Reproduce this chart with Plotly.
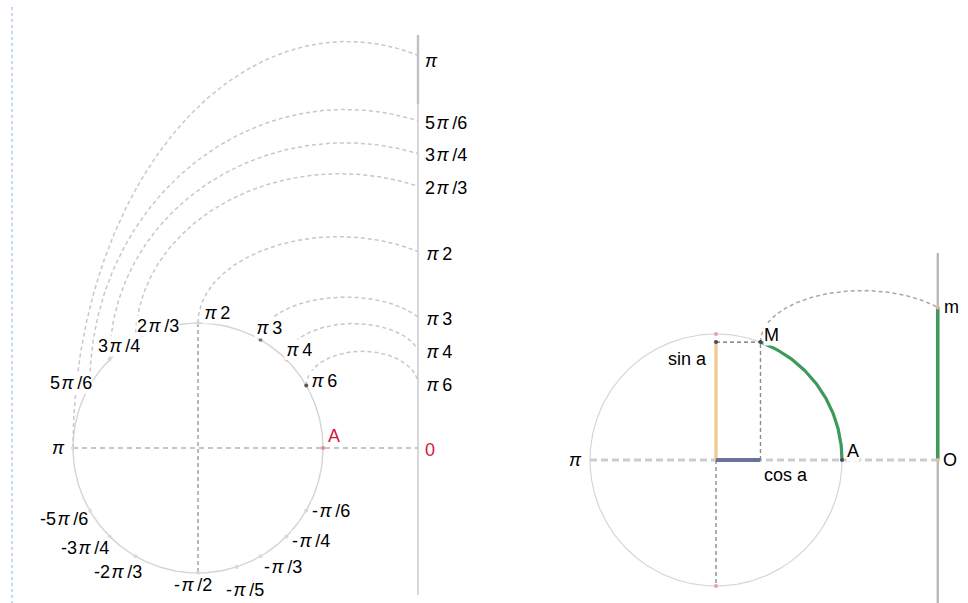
import numpy as np
import plotly.graph_objects as go

PI = np.pi

# ---------------- data ----------------
# Left diagram: points marked on the unit circle and their labels
circle_angles = [PI/2, PI/3, PI/4, PI/6, 0, 2*PI/3, 3*PI/4, 5*PI/6, PI,
                 -5*PI/6, -3*PI/4, -2*PI/3, -PI/2, -2*PI/5, -PI/3, -PI/4, -PI/6]
circle_labels = ["π2", "π3", "π4", "π6", "A", "2π/3", "3π/4", "5π/6", "π",
                 "-5π/6", "-3π/4", "-2π/3", "-π/2", "-π/5", "-π/3", "-π/4", "-π/6"]
# angles unrolled onto the number line (arc length = angle)
line_angles = [PI, 5*PI/6, 3*PI/4, 2*PI/3, PI/2, PI/3, PI/4, PI/6, 0]
line_labels = ["π", "5π/6", "3π/4", "2π/3", "π2", "π3", "π4", "π6", "0"]
# angles whose unrolling is shown by a dashed bridge
arc_angles = [PI, 5*PI/6, 3*PI/4, 2*PI/3, PI/2, PI/3, PI/4, PI/6]
# Right diagram: angle a of point M
alpha = 1.21

# ---------------- style / layout parameters ----------------
W, H = 968, 603
L = 1.76                        # x of the number line (in radius units)
R1, C1 = 125.0, (198.0, 448.0)  # left: px per unit, centre px
R2, C2 = 126.0, (716.0, 460.0)  # right
arc_rise = [0.11, 0.09, 0.085, 0.10, 0.12, 0.16, 0.21, 0.25]
label_shift = [(18, 10), (8, 12), (12, 10), (17, 5), (11, 12), (22, 14), (9, 14), (-19, 3),
               (-15, 0), (-26, -8), (-25, -12), (-18, -16), (-5, -12), (8, -23), (22, -11),
               (25, -5), (25, 0)]
FONT = "Liberation Sans, Arial, sans-serif"
RED = "#d2163c"
GRAY_ARC = "#cbc6c8"


def fmt(s):
    if s == "π":
        return "<i>π</i>"
    return s.replace("π", "\u200a<i>π</i>\u2009")


def bridge(P, Q, rise, n=160):
    px, py = P
    qx, qy = Q
    top = qy + rise
    b = top - py
    r = (qy - py) / b
    a = (qx - px) / (1 + np.sqrt(1 - r * r))
    cx = px + a
    phiq = np.arctan2(r, (qx - cx) / a)
    t = np.linspace(PI, phiq, n)
    return cx + a * np.cos(t), py + b * np.sin(t)


fig = go.Figure()


def line(x, y, color, width, dash="solid", ax=1):
    fig.add_trace(go.Scatter(x=x, y=y, mode="lines", hoverinfo="skip",
                             line=dict(color=color, width=width, dash=dash),
                             xaxis="x" if ax == 1 else "x2",
                             yaxis="y" if ax == 1 else "y2"))


tt = np.linspace(0, 2 * PI, 361)

# ================= LEFT DIAGRAM =================
line(np.cos(tt), np.sin(tt), "#d4d4d6", 1.4)
line([-1, L], [0, 0], "#b4b2b4", 1.6, "5px,4px")
line([0, 0], [1, -1], "#9a9a9c", 1.4, "4px,3px")
line([L, L], [-1.176, 3.304], "#cfcfd4", 1.6)
line([L, L], [2.75, 3.304], "#c0c0c6", 2.4)

for ang, rise in zip(arc_angles, arc_rise):
    bx, by = bridge((np.cos(ang), np.sin(ang)), (L, ang), rise)
    line(bx, by, GRAY_ARC, 1.5, "4px,3px")

# dots on circle
dot_col = ["#d8d8d8"] * len(circle_angles)
dot_col[1] = "#777777"
dot_col[2] = "#e08c9a"
dot_col[3] = "#555555"
dot_col[4] = "#e08c9a"
fig.add_trace(go.Scatter(x=np.cos(circle_angles), y=np.sin(circle_angles), mode="markers",
                         marker=dict(size=4, color=dot_col), hoverinfo="skip",
                         xaxis="x", yaxis="y"))

ann = []
for ang, lab, (dx, dy) in zip(circle_angles, circle_labels, label_shift):
    ann.append(dict(x=np.cos(ang), y=np.sin(ang), xref="x", yref="y", text=fmt(lab),
                    showarrow=False, xshift=dx, yshift=dy, bgcolor="white", borderpad=0,
                    font=dict(family=FONT, size=18, color=RED if lab == "A" else "black")))
for ang, lab in zip(line_angles, line_labels):
    ann.append(dict(x=L, y=ang, xref="x", yref="y", text=fmt(lab), showarrow=False,
                    xanchor="left", xshift=5, yshift=-2 if lab != "π" else -6,
                    font=dict(family=FONT, size=18, color=RED if lab == "0" else "black")))

# ================= RIGHT DIAGRAM =================
ca, sa = np.cos(alpha), np.sin(alpha)
line(np.cos(tt), np.sin(tt), "#d6d6d8", 1.2, ax=2)
line([-1, L], [0, 0], "#cdcdcf", 3.2, "7px,4px", ax=2)
line([0, 0], [0, -1], "#8a8a90", 1.4, "4px,3px", ax=2)
line([ca, ca], [0, sa], "#8a8a90", 1.4, "4px,3px", ax=2)
line([0, ca], [sa, sa], "#6a6a70", 1.4, "4px,3px", ax=2)
line([L, L], [-1.135, 1.643], "#b4b4bc", 2.2, ax=2)
bx, by = bridge((ca, sa), (L, alpha), 0.135)
line(bx, by, "#a8a8aa", 1.5, "4px,3px", ax=2)
line([0, 0], [0, sa], "#f2c88e", 3.2, ax=2)
line([0, ca], [0, 0], "#6b7299", 4, ax=2)
ta = np.linspace(0, alpha, 80)
line(np.cos(ta), np.sin(ta), "#3d9a5c", 3.2, ax=2)
line([L, L], [0, alpha], "#3d9a5c", 3.6, ax=2)
fig.add_trace(go.Scatter(x=[0, 0, ca, 1, 0, L, L], y=[1, -1, sa, 0, sa, 0, alpha],
                         mode="markers", hoverinfo="skip",
                         marker=dict(size=4, color=["#e8a0a8", "#e8a0a8", "#444a55", "#444a55",
                                                    "#444a55", "#e0c0a0", "#e8b0a0"]),
                         xaxis="x2", yaxis="y2"))

right_pts = [(ca, sa, "M", 11, 7, "center"), (L, alpha, "m", 14, 1, "center"),
             (0, sa, "sin a", -8, -17, "right"), (ca, 0, "cos a", 26, -15, "center"),
             (1, 0, "A", 11, 9, "center"), (L, 0, "O", 12, 0, "center"),
             (-1, 0, "π", -15, 0, "center")]
for x, y, lab, dx, dy, xa in right_pts:
    ann.append(dict(x=x, y=y, xref="x2", yref="y2", text=fmt(lab), showarrow=False,
                    xshift=dx, yshift=dy, xanchor=xa, bgcolor="white", borderpad=0,
                    font=dict(family=FONT, size=18, color="black")))

# axes: ranges chosen so 1 unit = radius in pixels
xl0 = (0 - C1[0]) / R1
xl1 = (480 - C1[0]) / R1
yl0 = (C1[1] - H) / R1
yl1 = C1[1] / R1
xr0 = (480 - C2[0]) / R2
xr1 = (W - C2[0]) / R2
yr0 = (C2[1] - H) / R2
yr1 = C2[1] / R2

ax_common = dict(visible=False, showgrid=False, zeroline=False, fixedrange=True)
fig.update_layout(
    width=W, height=H, autosize=False, margin=dict(l=0, r=0, t=0, b=0),
    paper_bgcolor="white", plot_bgcolor="white", showlegend=False,
    xaxis=dict(domain=[0, 480 / W], range=[xl0, xl1], **ax_common),
    yaxis=dict(domain=[0, 1], range=[yl0, yl1], **ax_common),
    xaxis2=dict(domain=[480 / W, 1], range=[xr0, xr1], anchor="y2", **ax_common),
    yaxis2=dict(domain=[0, 1], range=[yr0, yr1], anchor="x2", **ax_common),
    annotations=ann,
    shapes=[dict(type="line", xref="paper", yref="paper", x0=12 / W, x1=12 / W,
                 y0=1 - 7 / H, y1=0, line=dict(color="#9cc0e8", width=1.2, dash="dot"))],
)

fig.write_html("out.html", config={"displayModeBar": False})

# remove default page margin so the figure fills the window exactly
with open("out.html", "r", encoding="utf-8") as f:
    html = f.read()
html = html.replace("<body>", '<body style="margin:0;overflow:hidden">', 1)
with open("out.html", "w", encoding="utf-8") as f:
    f.write(html)
